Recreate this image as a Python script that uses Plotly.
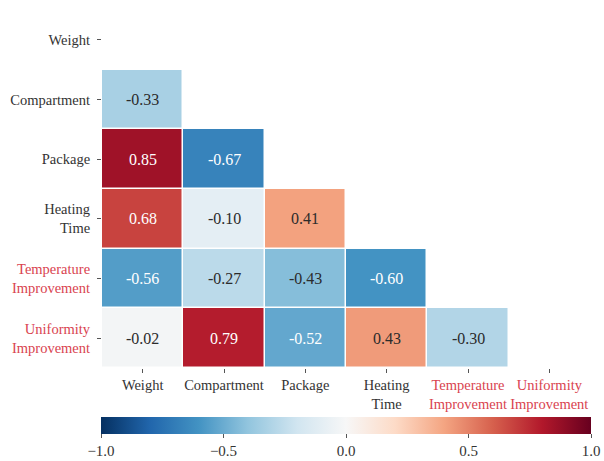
import numpy as np
import plotly.graph_objects as go

# Variable names (tick labels) and lower-triangle correlation coefficients
labels = ["Weight", "Compartment", "Package", "Heating<br>Time",
          "Temperature<br>Improvement", "Uniformity<br>Improvement"]
label_colors = ["#333333", "#333333", "#333333", "#333333", "#d9434f", "#d9434f"]

row_compartment = [-0.33]
row_package = [0.85, -0.67]
row_heating = [0.68, -0.10, 0.41]
row_temperature = [-0.56, -0.27, -0.43, -0.60]
row_uniformity = [-0.02, 0.79, -0.52, 0.43, -0.30]

rows = [[], row_compartment, row_package, row_heating, row_temperature, row_uniformity]
n = len(labels)
z = np.full((n, n), np.nan)
for i, r in enumerate(rows):
    for j, v in enumerate(r):
        z[i, j] = v

# ColorBrewer RdBu, blue for negative and red for positive
rdbu = ["#053061", "#2166ac", "#4393c3", "#92c5de", "#d1e5f0", "#f7f7f7",
        "#fddbc7", "#f4a582", "#d6604d", "#b2182b", "#67001f"]
colorscale = [[k / (len(rdbu) - 1), c] for k, c in enumerate(rdbu)]

font_family = "Liberation Serif, Times New Roman, serif"

fig = go.Figure(go.Heatmap(
    z=z, x=labels, y=labels,
    zmin=-1, zmax=1, colorscale=colorscale,
    xgap=1.5, ygap=1.5, hoverongaps=False,
    colorbar=dict(
        orientation="h", x=0.5, xanchor="center", y=-0.137, yanchor="top",
        len=1.005, lenmode="fraction", thickness=17, outlinewidth=0,
        xpad=0, ypad=0,
        tickvals=[-1, -0.5, 0, 0.5, 1], tickformat=".1f",
        ticks="outside", ticklen=4, tickcolor="#555555",
        tickfont=dict(family=font_family, size=15, color="#333333"),
    ),
))

annotations = []
for i in range(n):
    for j in range(n):
        v = z[i, j]
        if np.isnan(v):
            continue
        annotations.append(dict(
            x=labels[j], y=labels[i], text=f"{v:.2f}", showarrow=False,
            font=dict(family=font_family, size=16,
                      color="white" if abs(v) > 0.5 else "#2b2b2b"),
        ))

fig.update_layout(
    width=604, height=461,
    margin=dict(l=102, r=14, t=10, b=93, autoexpand=False),
    paper_bgcolor="white", plot_bgcolor="white",
    font=dict(family=font_family, size=14, color="#333333"),
    annotations=annotations,
    xaxis=dict(
        tickmode="array", tickvals=labels,
        ticktext=[f"<span style='color:{c}'>{t}</span>" for t, c in zip(labels, label_colors)],
        ticks="outside", ticklen=4, tickcolor="#555555", tickangle=0,
        showgrid=False, zeroline=False, showline=False, automargin=False,
        tickfont=dict(family=font_family, size=14.5),
    ),
    yaxis=dict(
        tickmode="array", tickvals=labels,
        ticktext=[f"<span style='color:{c}'>{t}</span>" for t, c in zip(labels, label_colors)],
        autorange="reversed",
        ticks="outside", ticklen=4, tickcolor="#555555", ticklabelstandoff=4,
        showgrid=False, zeroline=False, showline=False, automargin=False,
        tickfont=dict(family=font_family, size=14.5),
    ),
)

fig.write_html("out.html")
